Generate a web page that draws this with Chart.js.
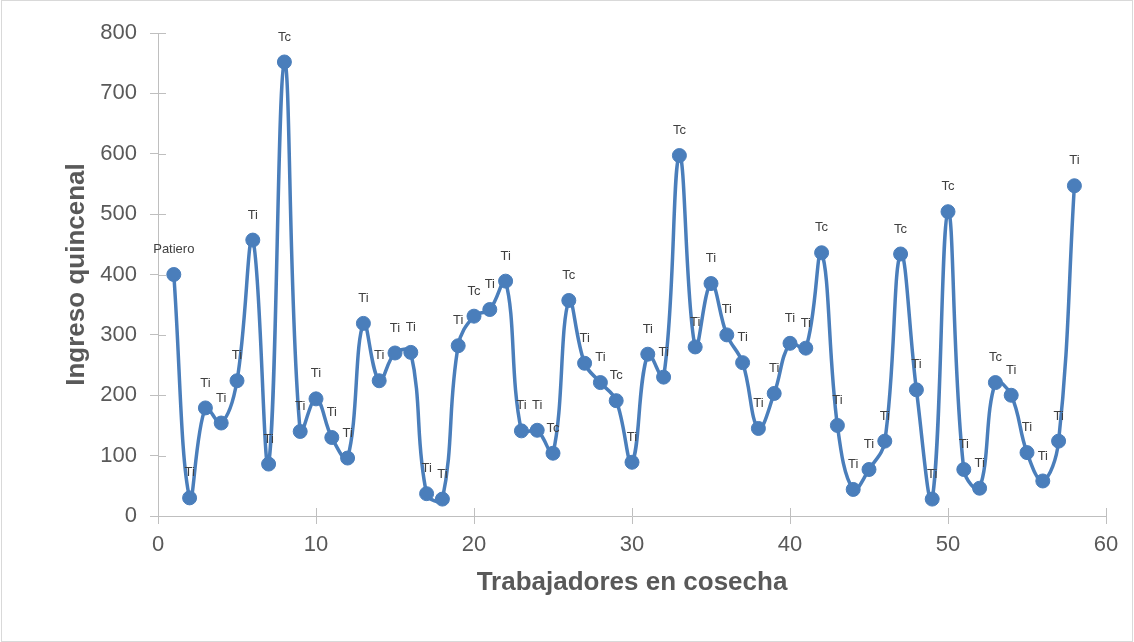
<!DOCTYPE html>
<html>
<head>
<meta charset="utf-8">
<script src="https://cdn.jsdelivr.net/npm/chart.js@4/dist/chart.umd.min.js"></script>
<style>
  html, body { margin: 0; padding: 0; background: #ffffff; }
  #wrap { width: 1134px; height: 642px; position: relative; }
</style>
</head>
<body>
<div id="wrap"><canvas id="grafico" width="1134" height="642"></canvas></div>
<script>
// Trabajador número (eje X)
const trabajadores = [
  1, 2, 3, 4, 5, 6, 7, 8, 9, 10,
  11, 12, 13, 14, 15, 16, 17, 18, 19, 20,
  21, 22, 23, 24, 25, 26, 27, 28, 29, 30,
  31, 32, 33, 34, 35, 36, 37, 38, 39, 40,
  41, 42, 43, 44, 45, 46, 47, 48, 49, 50,
  51, 52, 53, 54, 55, 56, 57, 58
];

// Ingreso quincenal por trabajador
const ingreso = [
  400, 30, 179, 154, 224, 457, 86, 752, 140, 194,
  130, 96, 319, 224, 270, 271, 37, 28, 282, 331,
  342, 389, 141, 142, 104, 357, 253, 221, 191, 89,
  268, 230, 597, 280, 385, 300, 254, 145, 203, 286,
  278, 436, 150, 44, 77, 124, 434, 209, 28, 504,
  77, 46, 221, 200, 105, 58, 124, 547
];

// Tipo de trabajador (etiqueta de cada punto)
const tipo = [
  'Patiero', 'Ti', 'Ti', 'Ti', 'Ti', 'Ti', 'Ti', 'Tc', 'Ti', 'Ti',
  'Ti', 'Ti', 'Ti', 'Ti', 'Ti', 'Ti', 'Ti', 'Ti', 'Ti', 'Tc',
  'Ti', 'Ti', 'Ti', 'Ti', 'Tc', 'Tc', 'Ti', 'Ti', 'Tc', 'Ti',
  'Ti', 'Ti', 'Tc', 'Ti', 'Ti', 'Ti', 'Ti', 'Ti', 'Ti', 'Ti',
  'Ti', 'Tc', 'Ti', 'Ti', 'Ti', 'Ti', 'Tc', 'Ti', 'Ti', 'Tc',
  'Ti', 'Ti', 'Tc', 'Ti', 'Ti', 'Ti', 'Ti', 'Ti'
];

// Marcas de los ejes
const ticksX = [0, 10, 20, 30, 40, 50, 60];
const ticksY = [0, 100, 200, 300, 400, 500, 600, 700, 800];

const AZUL = '#4a7ebb';
const EJE = '#bfbfbf';
const TEXTO = '#595959';
const FUENTE = '"Liberation Sans", Arial, sans-serif';
const MARCA = 8;

const puntos = trabajadores.map((x, i) => ({ x: x, y: ingreso[i] }));

// Etiquetas de tipo sobre cada punto
const etiquetasTipo = {
  id: 'etiquetasTipo',
  afterDatasetsDraw(chart) {
    const ctx = chart.ctx;
    const meta = chart.getDatasetMeta(0);
    ctx.save();
    ctx.font = '13px ' + FUENTE;
    ctx.fillStyle = '#404040';
    ctx.textAlign = 'center';
    ctx.textBaseline = 'middle';
    meta.data.forEach((el, i) => {
      ctx.fillText(tipo[i], el.x, el.y - 25);
    });
    ctx.restore();
  }
};

// Marcas de eje que cruzan la línea del eje (parte interior)
const marcasCruzadas = {
  id: 'marcasCruzadas',
  beforeDatasetsDraw(chart) {
    const ctx = chart.ctx;
    const sx = chart.scales.x, sy = chart.scales.y;
    ctx.save();
    ctx.strokeStyle = EJE;
    ctx.lineWidth = 1;
    ctx.beginPath();
    sx.ticks.forEach(t => {
      const px = Math.round(sx.getPixelForValue(t.value)) + 0.5;
      ctx.moveTo(px, sy.bottom);
      ctx.lineTo(px, sy.bottom - MARCA);
    });
    sy.ticks.forEach(t => {
      const py = Math.round(sy.getPixelForValue(t.value)) + 0.5;
      ctx.moveTo(sx.left, py);
      ctx.lineTo(sx.left + MARCA, py);
    });
    ctx.stroke();
    ctx.restore();
  }
};

// Marco exterior del gráfico
const marco = {
  id: 'marco',
  afterDraw(chart) {
    const ctx = chart.ctx;
    ctx.save();
    ctx.strokeStyle = '#d9d9d9';
    ctx.lineWidth = 1;
    ctx.strokeRect(1.5, 0.5, chart.width - 3, chart.height - 1);
    ctx.restore();
  }
};

new Chart(document.getElementById('grafico'), {
  type: 'line',
  data: {
    datasets: [{
      data: puntos,
      borderColor: AZUL,
      backgroundColor: AZUL,
      borderWidth: 3.5,
      tension: 0.4,
      pointRadius: 7,
      pointHoverRadius: 7,
      pointBackgroundColor: AZUL,
      pointBorderColor: AZUL,
      pointBorderWidth: 1,
      fill: false
    }]
  },
  options: {
    responsive: false,
    animation: false,
    events: [],
    layout: { padding: { left: 0, top: 33, right: 28, bottom: 0 } },
    plugins: {
      legend: { display: false },
      tooltip: { enabled: false },
      title: { display: false }
    },
    scales: {
      x: {
        type: 'linear',
        min: ticksX[0],
        max: ticksX[ticksX.length - 1],
        afterBuildTicks(scale) { scale.ticks = ticksX.map(v => ({ value: v })); },
        afterFit(scale) { scale.height = 126; },
        grid: { display: true, drawOnChartArea: false, drawTicks: true, tickLength: MARCA, color: EJE, lineWidth: 1 },
        border: { display: true, color: EJE, width: 1 },
        ticks: { color: TEXTO, font: { family: FUENTE, size: 22 }, padding: 8, maxRotation: 0 },
        title: {
          display: true,
          text: 'Trabajadores en cosecha',
          color: TEXTO,
          font: { family: FUENTE, size: 26, weight: 'bold' },
          padding: { top: 0, bottom: 44 }
        }
      },
      y: {
        type: 'linear',
        min: ticksY[0],
        max: ticksY[ticksY.length - 1],
        afterBuildTicks(scale) { scale.ticks = ticksY.map(v => ({ value: v })); },
        afterFit(scale) { scale.width = 158; },
        grid: { display: true, drawOnChartArea: false, drawTicks: true, tickLength: MARCA, color: EJE, lineWidth: 1 },
        border: { display: true, color: EJE, width: 1 },
        ticks: { color: TEXTO, font: { family: FUENTE, size: 22 }, padding: 13 },
        title: {
          display: true,
          text: 'Ingreso quincenal',
          color: TEXTO,
          font: { family: FUENTE, size: 26, weight: 'bold' },
          padding: { top: 61, bottom: 0 }
        }
      }
    }
  },
  plugins: [etiquetasTipo, marcasCruzadas, marco]
});
</script>
</body>
</html>
